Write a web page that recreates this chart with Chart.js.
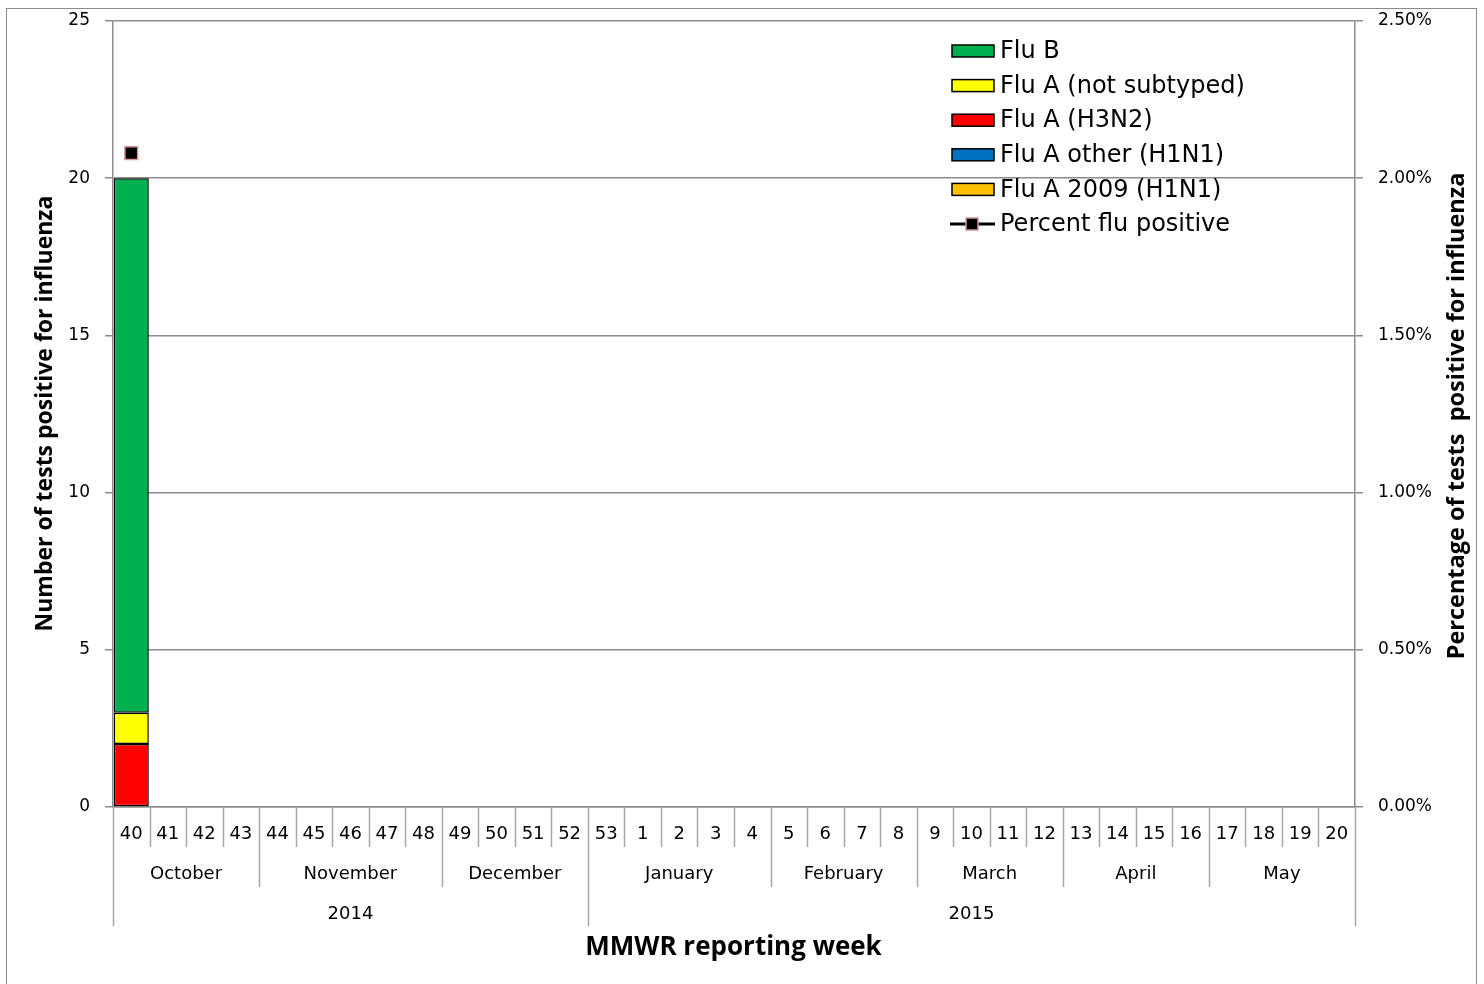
<!DOCTYPE html>
<html>
<head>
<meta charset="utf-8">
<script src="https://cdn.jsdelivr.net/npm/chart.js@4.4.1/dist/chart.umd.min.js"></script>
<style>
html,body{margin:0;padding:0;background:#fff;}
#wrap{width:1484px;height:984px;position:relative;}
</style>
</head>
<body>
<div id="wrap"><canvas id="c" width="1484" height="984"></canvas></div>
<script>
const weeks = ['40','41','42','43','44','45','46','47','48','49','50','51','52','53','1','2','3','4','5','6','7','8','9','10','11','12','13','14','15','16','17','18','19','20'];
const monthNames = ['October','November','December','January','February','March','April','May'];
const monthSpans = [4,5,4,5,4,4,4,4];
const yearNames = ['2014','2015'];
const yearSpans = [13,21];

const fluA2009H1N1 = [0];
const fluAOtherH1N1 = [0];
const fluAH3N2 = [2];
const fluANotSubtyped = [1];
const fluB = [17];
const percentPositive = [2.08];

const leftTicks = [0,5,10,15,20,25];
const rightTicks = [0,0.5,1,1.5,2,2.5];

const FONT = '"DejaVu Sans", sans-serif';
const BOLD = '"Open Sans", sans-serif';
const GRID = '#8c8c8c';
const SEP = '#a6a6a6';

function pad(arr){ const out = weeks.map(()=>null); arr.forEach((v,i)=>out[i]=v); return out; }

const barCommon = {type:'bar', stack:'s', yAxisID:'y', borderColor:'#000', borderWidth:1.5, borderSkipped:false, barPercentage:0.96, categoryPercentage:1.0, order:2};
const datasets = [
  Object.assign({label:'Flu A 2009 (H1N1)', data:pad(fluA2009H1N1), backgroundColor:'#ffc000'}, barCommon),
  Object.assign({label:'Flu A other (H1N1)', data:pad(fluAOtherH1N1), backgroundColor:'#0070c0'}, barCommon),
  Object.assign({label:'Flu A (H3N2)', data:pad(fluAH3N2), backgroundColor:'#ff0000'}, barCommon),
  Object.assign({label:'Flu A (not subtyped)', data:pad(fluANotSubtyped), backgroundColor:'#ffff00'}, barCommon),
  Object.assign({label:'Flu B', data:pad(fluB), backgroundColor:'#00b050'}, barCommon),
  {type:'line', label:'Percent flu positive', data:pad(percentPositive), yAxisID:'y1', borderColor:'#000', borderWidth:3,
   pointStyle:'rect', pointRadius:9, pointBackgroundColor:'#000', pointBorderColor:'#d99694', pointBorderWidth:1.5, order:1, spanGaps:false}
];
// zero values shown as no bar
datasets.forEach(d=>{ if(d.type==='bar') d.data = d.data.map(v=> v===0?null:v); });

const legendOrder = ['Flu B','Flu A (not subtyped)','Flu A (H3N2)','Flu A other (H1N1)','Flu A 2009 (H1N1)','Percent flu positive'];

const deco = {
  id:'deco',
  beforeDraw(chart){
    const ctx = chart.ctx;
    ctx.save();
    ctx.fillStyle='#fff'; ctx.fillRect(0,0,chart.width,chart.height);
    ctx.strokeStyle='#8c8c8c'; ctx.lineWidth=1;
    ctx.strokeRect(6.5,8.5,1470,980);
    ctx.restore();
  },
  afterDraw(chart){
    const ctx = chart.ctx, xs = chart.scales.x, a = chart.chartArea;
    const n = weeks.length;
    const c = i => xs.getPixelForValue(i);
    const edge = i => i<=0 ? a.left : (i>=n ? a.right : (c(i-1)+c(i))/2);
    const base = a.bottom;
    ctx.save();
    ctx.strokeStyle = SEP; ctx.lineWidth = 1.5;
    const monthEdges = new Set(); let acc=0; monthSpans.forEach(s=>{acc+=s; monthEdges.add(acc);});
    const yearEdges = new Set([0]); acc=0; yearSpans.forEach(s=>{acc+=s; yearEdges.add(acc);});
    for(let i=0;i<=n;i++){
      let bottom = base+40;
      if(monthEdges.has(i)) bottom = base+80;
      if(yearEdges.has(i)) bottom = base+119;
      const x = Math.round(edge(i))+0.5;
      ctx.beginPath(); ctx.moveTo(x,base); ctx.lineTo(x,bottom); ctx.stroke();
    }
    ctx.fillStyle='#000'; ctx.textAlign='center'; ctx.textBaseline='middle';
    ctx.font = '18px '+FONT;
    weeks.forEach((w,i)=>ctx.fillText(w, c(i), base+27));
    acc=0;
    monthNames.forEach((m,k)=>{ const s=acc, e=acc+monthSpans[k]; acc=e; ctx.fillText(m,(edge(s)+edge(e))/2, base+67); });
    acc=0;
    yearNames.forEach((y,k)=>{ const s=acc, e=acc+yearSpans[k]; acc=e; ctx.fillText(y,(edge(s)+edge(e))/2, base+107); });
    ctx.font = 'bold 26px '+BOLD;
    ctx.fillText('MMWR reporting week', 733.5, 948);
    ctx.font = 'bold 23px '+BOLD;
    ctx.save(); ctx.translate(45,413.5); ctx.rotate(-Math.PI/2);
    ctx.fillText('Number of tests positive for influenza',0,0); ctx.restore();
    ctx.font = 'bold 23.5px '+BOLD;
    ctx.save(); ctx.translate(1457,416); ctx.rotate(-Math.PI/2);
    ctx.fillText('Percentage of tests  positive for influenza',0,0); ctx.restore();
    ctx.font = '24px '+FONT; ctx.textAlign='left';
    const ly0 = 51, ldy = 34.6;
    legendOrder.forEach((lab,k)=>{
      const d = chart.data.datasets.find(ds=>ds.label===lab);
      const y = ly0 + k*ldy;
      if(d.type==='bar'){
        ctx.fillStyle=d.backgroundColor; ctx.fillRect(952,y-6,42,12);
        ctx.strokeStyle='#000'; ctx.lineWidth=1.5; ctx.strokeRect(952,y-6,42,12);
      } else {
        ctx.strokeStyle='#000'; ctx.lineWidth=3; ctx.beginPath(); ctx.moveTo(950,y); ctx.lineTo(995,y); ctx.stroke();
        ctx.fillStyle='#000'; ctx.fillRect(966,y-6,12,12);
        ctx.strokeStyle='#d99694'; ctx.lineWidth=1.5; ctx.strokeRect(966,y-6,12,12);
      }
      ctx.fillStyle='#000';
      ctx.fillText(lab, 1000, y+1);
    });
    ctx.restore();
  }
};

new Chart(document.getElementById('c'), {
  data:{labels:weeks, datasets},
  plugins:[deco],
  options:{
    responsive:false, animation:false,
    layout:{padding:{top:21,left:0,right:0,bottom:0}},
    plugins:{legend:{display:false}, tooltip:{enabled:false}},
    scales:{
      x:{type:'category', stacked:true, ticks:{display:false}, grid:{display:false}, border:{color:GRID, width:1.5},
         afterFit(s){ s.height = 177; s.paddingLeft=0; s.paddingRight=0; }},
      y:{position:'left', stacked:true, min:0, max:25, afterBuildTicks(s){ s.ticks = leftTicks.map(v=>({value:v})); },
         ticks:{padding:15, color:'#000', font:{size:17, family:FONT}},
         grid:{color:GRID, lineWidth:1.5, tickLength:8}, border:{color:GRID, width:1.5},
         afterFit(s){ s.width = 113; s.paddingTop=0; s.paddingBottom=0; }},
      y1:{position:'right', min:0, max:2.5, afterBuildTicks(s){ s.ticks = rightTicks.map(v=>({value:v})); },
         ticks:{padding:15, color:'#000', font:{size:17, family:FONT}, callback:v=>v.toFixed(2)+'%'},
         grid:{drawOnChartArea:false, color:GRID, lineWidth:1.5, tickLength:8}, border:{color:GRID, width:1.5},
         afterFit(s){ s.width = 129; s.paddingTop=0; s.paddingBottom=0; }}
    }
  }
});
</script>
</body>
</html>
